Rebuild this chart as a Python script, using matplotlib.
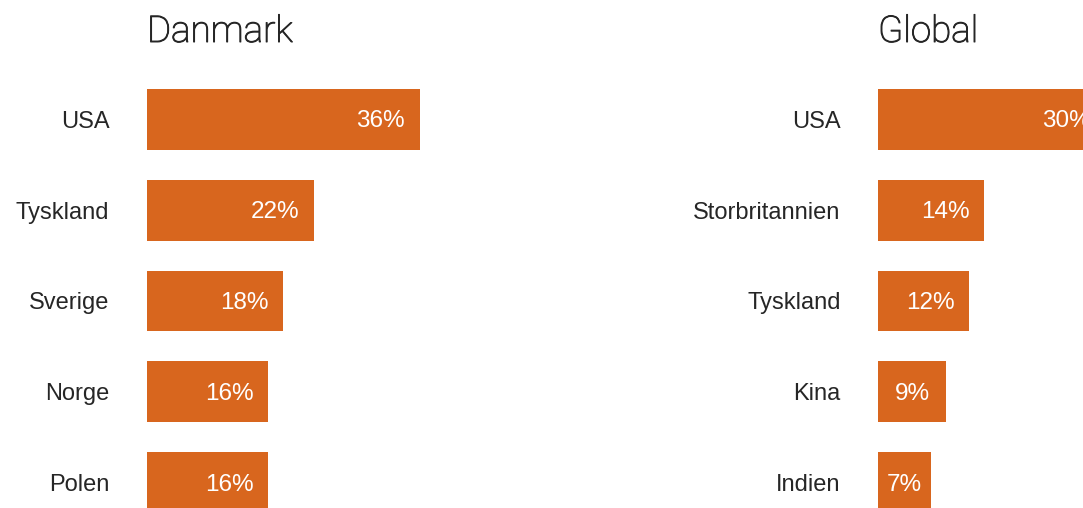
import matplotlib
matplotlib.use('Agg')
import matplotlib.pyplot as plt
import matplotlib.patheffects as pe

# data
dk_countries = ['USA', 'Tyskland', 'Sverige', 'Norge', 'Polen']
dk_values = [36, 22, 18, 16, 16]
gl_countries = ['USA', 'Storbritannien', 'Tyskland', 'Kina', 'Indien']
gl_values = [30, 14, 12, 9, 7]
titles = ['Danmark', 'Global']

W, H = 1083, 508
bar_col = '#D8661E'
txt_col = '#262626'
plt.rcParams['font.family'] = ['Liberation Sans', 'DejaVu Sans']

fig = plt.figure(figsize=(W/100, H/100), dpi=100)

def panel(left_px, names, vals, title):
    # 0..40% spans 303 px, rows spaced ~90.75 px
    ax = fig.add_axes([left_px/W, (H-528)/H, 303/W, 454/H])
    ypos = list(range(len(vals)))
    ax.barh(ypos, vals, height=0.67, color=bar_col)
    ax.set_xlim(0, 40)
    ax.set_ylim(4.5, -0.5)
    ax.set_yticks(ypos)
    ax.set_yticklabels(names, fontsize=17, color=txt_col)
    ax.tick_params(axis='y', length=0, pad=27)
    ax.set_xticks([])
    for s in ax.spines.values():
        s.set_visible(False)
    for y, v in zip(ypos, vals):
        wpx = v * 303 / 40
        if wpx > 90:
            ax.annotate('%d%%' % v, (v, y), xytext=(-10.5, -1.5), textcoords='offset points',
                        ha='right', va='center', color='white', fontsize=17.5)
        else:
            ax.annotate('%d%%' % v, (v/2, y), xytext=(0, -1.5), textcoords='offset points',
                        ha='center', va='center', color='white', fontsize=17.5)
    t = fig.text(left_px/W, (H-42)/H, title, fontsize=26.5, color=txt_col, va='baseline',
                 ha='left', family=['Roboto', 'Liberation Sans'], fontweight='light')
    t.set_path_effects([pe.Stroke(linewidth=0.7, foreground=txt_col), pe.Normal()])
    return ax

panel(147, dk_countries, dk_values, titles[0])
panel(878, gl_countries, gl_values, titles[1])

fig.savefig('out.png', dpi=100)
